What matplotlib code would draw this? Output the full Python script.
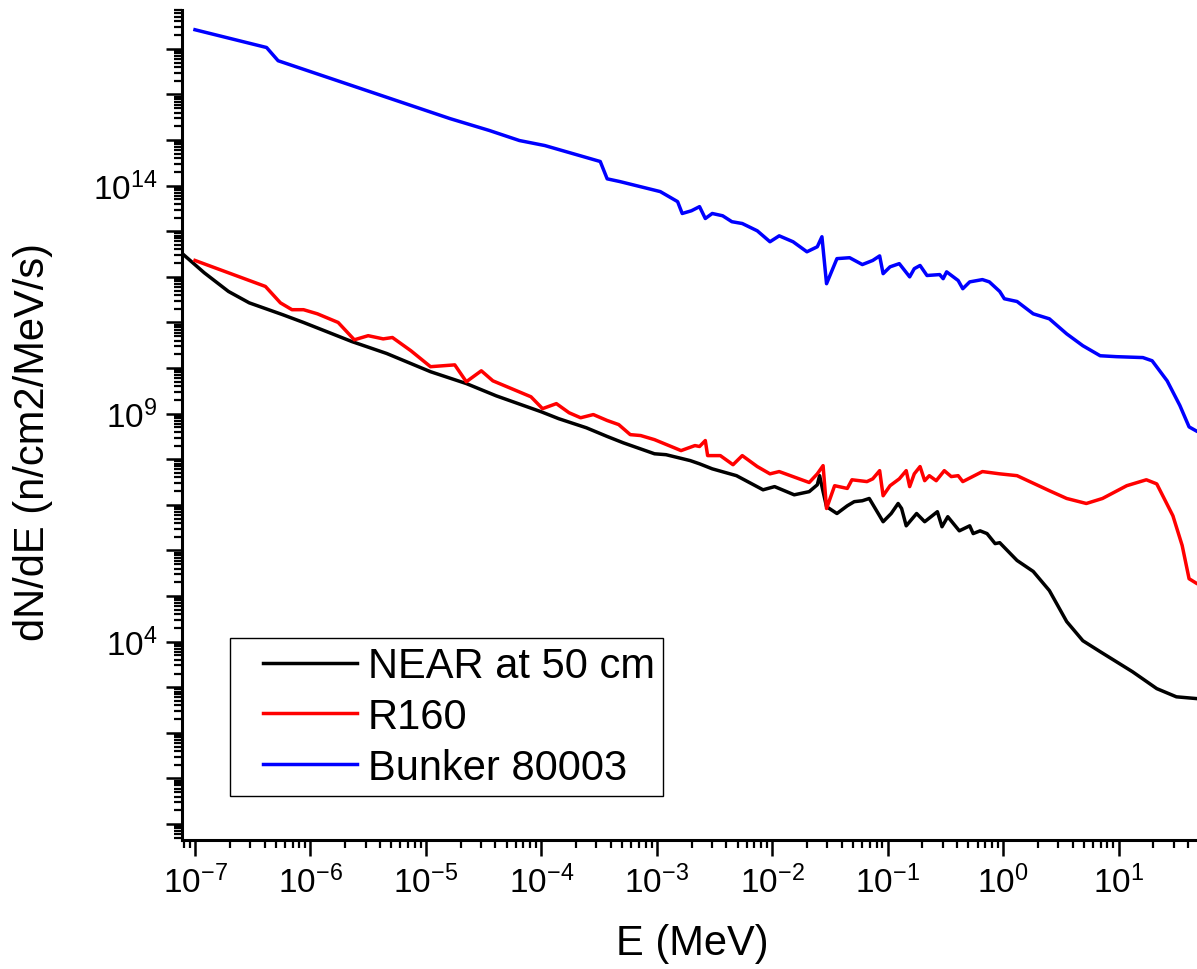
import numpy as np
import matplotlib
matplotlib.use("Agg")
import matplotlib.pyplot as plt
from matplotlib.ticker import FixedLocator, FuncFormatter, NullFormatter
from matplotlib.legend_handler import HandlerLine2D
from matplotlib.lines import Line2D

# ---- data (log10 of energy in MeV, log10 of dN/dE) ----
near_logE = [-7.11, -6.92, -6.71, -6.53, -6.24, -6.06, -5.64, -5.34, -4.96, -4.65,
             -4.39, -4.00, -3.85, -3.61, -3.43, -3.29, -3.02, -2.92, -2.71, -2.63,
             -2.52, -2.31, -2.08, -1.98, -1.81, -1.68, -1.61, -1.59, -1.56, -1.53,
             -1.44, -1.35, -1.29, -1.22, -1.16, -1.04, -0.97, -0.91, -0.88, -0.84,
             -0.75, -0.68, -0.57, -0.53, -0.48, -0.38, -0.29, -0.26, -0.20, -0.14,
             -0.07, -0.03, 0.12, 0.26, 0.40, 0.55, 0.69, 0.84, 1.12, 1.33,
             1.50, 1.68, 1.83]
near_logF = [12.51, 12.09, 11.68, 11.43, 11.17, 11.00, 10.58, 10.32, 9.92, 9.66,
             9.39, 9.04, 8.89, 8.69, 8.50, 8.36, 8.12, 8.10, 7.97, 7.90,
             7.79, 7.64, 7.33, 7.40, 7.22, 7.29, 7.44, 7.64, 7.29, 6.96,
             6.81, 6.98, 7.07, 7.09, 7.14, 6.63, 6.81, 7.03, 6.92, 6.54,
             6.81, 6.63, 6.85, 6.52, 6.74, 6.43, 6.54, 6.37, 6.43, 6.37,
             6.15, 6.17, 5.78, 5.54, 5.12, 4.44, 4.02, 3.78, 3.34, 2.97,
             2.79, 2.75, 2.73]

r160_logE = [-7.00, -6.39, -6.26, -6.16, -6.06, -5.94, -5.76, -5.62, -5.50, -5.37,
             -5.29, -5.13, -4.96, -4.75, -4.65, -4.52, -4.42, -4.09, -3.99, -3.87,
             -3.76, -3.66, -3.55, -3.43, -3.33, -3.23, -3.14, -3.02, -2.79, -2.67,
             -2.63, -2.58, -2.56, -2.45, -2.34, -2.26, -2.13, -2.02, -1.94, -1.68,
             -1.61, -1.56, -1.53, -1.46, -1.35, -1.31, -1.18, -1.13, -1.07, -1.04,
             -0.98, -0.90, -0.84, -0.81, -0.77, -0.72, -0.68, -0.64, -0.58, -0.51,
             -0.45, -0.39, -0.35, -0.18, -0.03, 0.12, 0.40, 0.55, 0.72, 0.86,
             1.07, 1.24, 1.33, 1.47, 1.55, 1.61, 1.68, 1.83]
r160_logF = [12.36, 11.79, 11.43, 11.28, 11.28, 11.19, 11.00, 10.62, 10.71, 10.64,
             10.67, 10.38, 10.03, 10.07, 9.70, 9.94, 9.72, 9.37, 9.11, 9.22,
             9.02, 8.91, 8.98, 8.85, 8.76, 8.54, 8.52, 8.43, 8.19, 8.30,
             8.28, 8.41, 8.08, 8.08, 7.88, 8.08, 7.84, 7.68, 7.73, 7.49,
             7.68, 7.86, 6.92, 7.42, 7.36, 7.55, 7.51, 7.57, 7.75, 7.20,
             7.42, 7.57, 7.75, 7.40, 7.68, 7.84, 7.53, 7.64, 7.53, 7.75,
             7.62, 7.64, 7.51, 7.73, 7.68, 7.64, 7.31, 7.14, 7.03, 7.14,
             7.42, 7.55, 7.46, 6.76, 6.11, 5.38, 5.27, 5.25]

bunker_logE = [-7.00, -6.38, -6.28, -4.79, -4.45, -4.19, -3.97, -3.49, -3.43, -3.32,
               -2.97, -2.82, -2.78, -2.70, -2.63, -2.58, -2.52, -2.43, -2.35, -2.26,
               -2.13, -2.02, -1.94, -1.82, -1.70, -1.61, -1.57, -1.53, -1.44, -1.33,
               -1.22, -1.13, -1.07, -1.04, -0.98, -0.90, -0.81, -0.77, -0.72, -0.66,
               -0.55, -0.52, -0.49, -0.39, -0.35, -0.29, -0.18, -0.12, -0.03, 0.01,
               0.12, 0.26, 0.40, 0.55, 0.69, 0.84, 0.98, 1.21, 1.29, 1.42,
               1.53, 1.61, 1.68, 1.83]
bunker_logF = [17.42, 17.03, 16.74, 15.47, 15.21, 14.99, 14.88, 14.53, 14.15, 14.09,
               13.87, 13.65, 13.39, 13.45, 13.54, 13.28, 13.39, 13.34, 13.21, 13.17,
               13.01, 12.77, 12.90, 12.77, 12.55, 12.66, 12.88, 11.85, 12.40, 12.42,
               12.27, 12.36, 12.46, 12.07, 12.22, 12.29, 12.00, 12.18, 12.25, 12.03,
               12.05, 11.96, 12.11, 11.92, 11.74, 11.89, 11.94, 11.89, 11.68, 11.52,
               11.46, 11.19, 11.08, 10.75, 10.49, 10.27, 10.25, 10.23, 10.16, 9.72,
               9.18, 8.71, 8.61, 8.58]

series_labels = ["NEAR at 50 cm", "R160", "Bunker 80003"]
series_colors = ["#000000", "#FF0000", "#0000FF"]
x_labeled_exps = list(range(-7, 2))
y_labeled_exps = [4, 9, 14]

plt.rcParams['font.family'] = ['Liberation Sans', 'DejaVu Sans']
plt.rcParams['mathtext.fontset'] = 'custom'
plt.rcParams['mathtext.rm'] = 'Liberation Sans'

fig = plt.figure(figsize=(11.97, 9.70), dpi=100)
ax = fig.add_axes([0.152, 0.133, 0.879, 0.856])

for lx, ly, lab, col in zip([near_logE, r160_logE, bunker_logE],
                            [near_logF, r160_logF, bunker_logF],
                            series_labels, series_colors):
    ax.plot(10.0 ** np.array(lx), 10.0 ** np.array(ly), color=col, lw=2.5,
            label=lab, solid_joinstyle='round')

ax.set_xscale('log')
ax.set_yscale('log')
ax.set_xlim(10 ** -7.113, 1e2)
ax.set_ylim(10 ** -0.35, 10 ** 17.86)


def xfmt(v, p):
    e = int(round(np.log10(v)))
    return r'$\mathregular{10^{%d}}$' % e if e in x_labeled_exps else ''


def yfmt(v, p):
    e = int(round(np.log10(v)))
    return r'$\mathregular{10^{%d}}$' % e if e in y_labeled_exps else ''


ax.xaxis.set_major_locator(FixedLocator([10.0 ** e for e in range(-7, 3)]))
ax.xaxis.set_minor_locator(FixedLocator([s * 10.0 ** e for e in range(-8, 3) for s in range(2, 10)]))
ax.xaxis.set_major_formatter(FuncFormatter(xfmt))
ax.xaxis.set_minor_formatter(NullFormatter())

ax.yaxis.set_major_locator(FixedLocator([10.0 ** e for e in range(-1, 19)]))
ax.yaxis.set_minor_locator(FixedLocator([s * 10.0 ** e for e in range(-1, 19) for s in range(2, 10)]))
ax.yaxis.set_major_formatter(FuncFormatter(yfmt))
ax.yaxis.set_minor_formatter(NullFormatter())

ax.tick_params(which='major', direction='out', length=11.5, width=1.8, labelsize=24, pad=6)
ax.tick_params(which='minor', direction='out', length=6, width=1.6)

for s in ['top', 'right']:
    ax.spines[s].set_visible(False)
for s in ['left', 'bottom']:
    ax.spines[s].set_linewidth(2.2)

ax.set_xlabel('E (MeV)', fontsize=30)
ax.xaxis.set_label_coords(0.4855, -0.10)
ax.set_ylabel('dN/dE (n/cm2/MeV/s)', fontsize=30)
ax.yaxis.set_label_coords(-0.123, 0.48)


class ShiftedLineHandler(HandlerLine2D):
    """Legend line that starts a bit to the right of the handle box."""
    def get_xdata(self, legend, xdescent, ydescent, width, height, fontsize):
        xdata, xm = super().get_xdata(legend, xdescent, ydescent, width, height, fontsize)
        return [xdata[0] + 0.59 * fontsize, xdata[-1]], xm


leg = ax.legend(loc='lower left', bbox_to_anchor=(0.0456, 0.053), fontsize=30,
                frameon=True, fancybox=False, edgecolor='black', framealpha=1,
                borderpad=0.2, labelspacing=0.257, handlelength=2.85,
                handletextpad=0.26, borderaxespad=0,
                handler_map={Line2D: ShiftedLineHandler()})
leg.get_frame().set_linewidth(1.0)

fig.savefig('out.png', dpi=100)
